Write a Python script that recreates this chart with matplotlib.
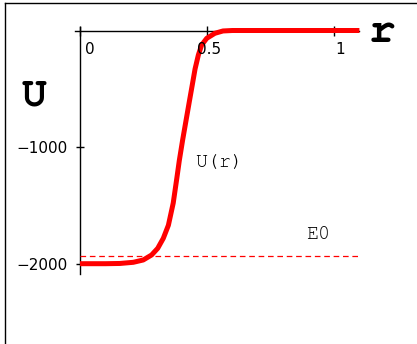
import matplotlib
matplotlib.use("Agg")
import matplotlib.pyplot as plt
from matplotlib.lines import Line2D

# potential curve
r_vals = [0.0, 0.1, 0.157, 0.21, 0.249, 0.282, 0.306, 0.328, 0.348, 0.367,
          0.381, 0.391, 0.404, 0.42, 0.43, 0.442, 0.453, 0.466, 0.479, 0.499,
          0.531, 0.563, 0.6, 0.8, 1.1]
u_vals = [-2000, -2000, -1998, -1988, -1968, -1925, -1868, -1782, -1670, -1480,
          -1270, -1115, -940, -740, -615, -467, -330, -210, -124, -67,
          -24, -4, 0, 0, 0]
E0 = -1930

x_ticks = [0, 0.5, 1]
x_tick_labels = ["0", "0.5", "1"]
y_ticks = [-1000, -2000]
y_tick_labels = ["\u22121000", "\u22122000"]

W, H = 417, 344
fig = plt.figure(figsize=(W / 100, H / 100), dpi=100)
ax = fig.add_axes([0, 0, 1, 1])
ax.patch.set_alpha(0)

# map data to pixels: r=0 at x=80px, 254 px per unit; U=0 at y=30.5px, 116.6 px per 1000
ax.set_xlim(-80 / 254, (W - 80) / 254)
ax.set_ylim(-(H - 30.5) / 116.6 * 1000, 30.5 / 116.6 * 1000)

ax.plot(r_vals, u_vals, color="#ff0000", lw=3.6, solid_joinstyle="round",
        solid_capstyle="butt", zorder=3)
ax.plot([0, 1.1], [E0, E0], color="#ff0000", lw=0.9, dashes=(4.5, 3), zorder=2)

for side in ["top", "right"]:
    ax.spines[side].set_visible(False)
ax.spines["left"].set_position(("data", 0))
ax.spines["bottom"].set_position(("data", 0))
ax.spines["left"].set_bounds(-2090, 30)
ax.spines["bottom"].set_bounds(-0.02, 1.1)
for side in ["left", "bottom"]:
    ax.spines[side].set_linewidth(1.0)
    ax.spines[side].set_zorder(1)

ax.set_xticks(x_ticks)
ax.set_xticklabels([])
ax.set_yticks(y_ticks)
ax.set_yticklabels(y_tick_labels)
ax.tick_params(axis="x", direction="inout", length=7, width=1.0)
ax.tick_params(axis="y", direction="inout", length=6, width=1.0, pad=6,
               labelsize=11)

x_label_offsets = [5, -10, 1]
for v, lbl, dx in zip(x_ticks, x_tick_labels, x_label_offsets):
    ax.annotate(lbl, (v, 0), xytext=(dx, -12), textcoords="offset pixels",
                ha="left", va="top", fontsize=11)

mono = ["Courier New", "FreeMono", "Liberation Mono"]
ax.text(-0.181, -570, "U", family=mono, weight="bold", fontsize=30,
        ha="center", va="center")
ax.text(1.19, -13, "r", family=mono, weight="bold", fontsize=32,
        ha="center", va="center")
ax.text(0.453, -1130, "U(r)", family=mono, weight="medium", fontsize=14.5,
        ha="left", va="center")
ax.text(0.89, -1750, "E0", family=mono, weight="medium", fontsize=14.5,
        ha="left", va="center")

# outer frame (left and top edges)
fig.add_artist(Line2D([4.5 / W, 4.5 / W], [0, 1 - 3.3 / H], color="black", lw=1.0))
fig.add_artist(Line2D([4.5 / W, 1], [1 - 3.3 / H, 1 - 3.3 / H], color="black", lw=1.0))

fig.savefig("out.png", dpi=100)
